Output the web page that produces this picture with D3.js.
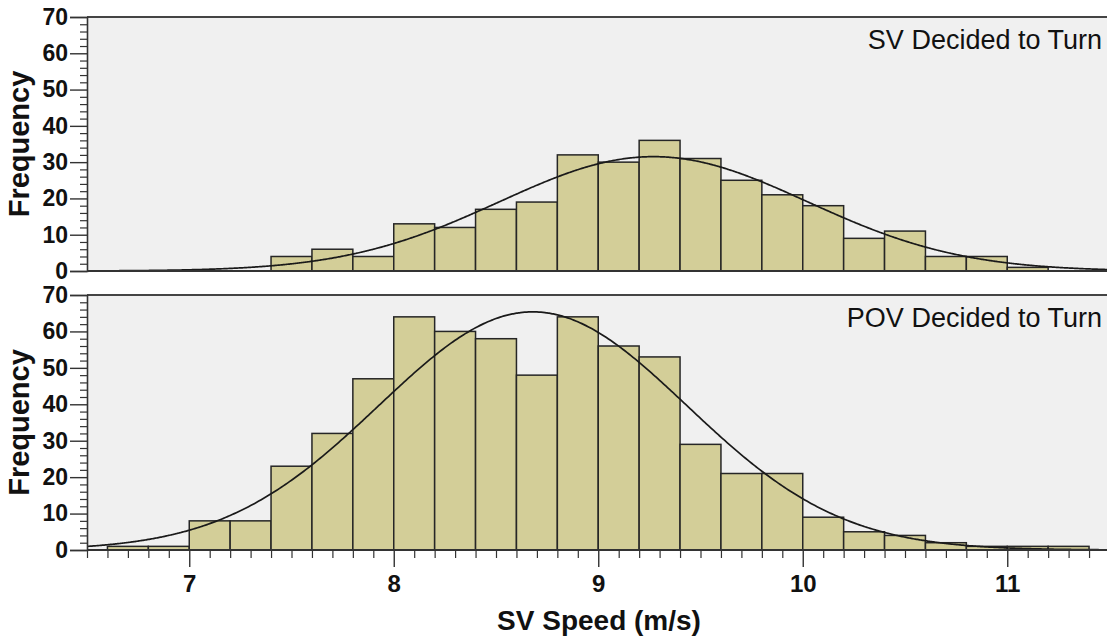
<!DOCTYPE html>
<html>
<head>
<meta charset="utf-8">
<script src="https://cdn.jsdelivr.net/npm/d3@7"></script>
<style>
	html, body { margin: 0; padding: 0; background: #ffffff; }
	svg { display: block; }
</style>
</head>
<body>
<svg id="chart" width="1107" height="637"></svg>
<script>
// histogram bins (lower edge, width 0.2 m/s)
const binWidth = 0.2;

const svTurnEdges  = [7.4, 7.6, 7.8, 8.0, 8.2, 8.4, 8.6, 8.8, 9.0, 9.2, 9.4, 9.6, 9.8, 10.0, 10.2, 10.4, 10.6, 10.8, 11.0];
const svTurnCounts = [4, 6, 4, 13, 12, 17, 19, 32, 30, 36, 31, 25, 21, 18, 9, 11, 4, 4, 1];

const povTurnEdges  = [6.6, 6.8, 7.0, 7.2, 7.4, 7.6, 7.8, 8.0, 8.2, 8.4, 8.6, 8.8, 9.0, 9.2, 9.4, 9.6, 9.8, 10.0, 10.2, 10.4, 10.6, 10.8, 11.0, 11.2];
const povTurnCounts = [1, 1, 8, 8, 23, 32, 47, 64, 60, 58, 48, 64, 56, 53, 29, 21, 21, 9, 5, 4, 2, 1, 1, 1];

// fitted normal curves (mean, std dev)
const svTurnFit  = { mean: 9.27, sd: 0.752 };
const povTurnFit = { mean: 8.68, sd: 0.753 };

const panelLabels = ["SV Decided to Turn", "POV Decided to Turn"];
const yTicks      = [0, 10, 20, 30, 40, 50, 60, 70];
const xTicks      = [7, 8, 9, 10, 11];
const xDomain     = [6.5, 11.5];
const yDomain     = [0, 70];

const svg = d3.select("#chart");
const font = "'Liberation Sans', Arial, Helvetica, sans-serif";

const left  = 87;
const right = 1109.5;

const x = d3.scaleLinear().domain(xDomain).range([left, right]);

function drawPanel(edges, counts, fit, label, top, bottom, showXAxis) {
	const y = d3.scaleLinear().domain(yDomain).range([bottom, top]);
	const g = svg.append("g");

	// plot background
	g.append("rect")
		.attr("x", left).attr("y", top)
		.attr("width", right - left).attr("height", bottom - top)
		.attr("fill", "#f0f0f0");

	// bars
	g.selectAll("rect.bar")
		.data(edges.map((e, i) => ({ x0: e, x1: e + binWidth, n: counts[i] })))
		.join("rect")
		.attr("class", "bar")
		.attr("x", d => x(d.x0))
		.attr("y", d => y(d.n))
		.attr("width", d => x(d.x1) - x(d.x0))
		.attr("height", d => y(0) - y(d.n))
		.attr("fill", "#d3ce98")
		.attr("stroke", "#262626")
		.attr("stroke-width", 1.5);

	// normal curve scaled to the histogram
	const total = d3.sum(counts);
	const norm  = total * binWidth / (fit.sd * Math.sqrt(2 * Math.PI));
	const xs    = d3.range(xDomain[0], xDomain[1] + 0.001, 0.01);
	const line  = d3.line()
		.x(v => x(v))
		.y(v => y(norm * Math.exp(-0.5 * ((v - fit.mean) / fit.sd) ** 2)))
		.curve(d3.curveBasis);
	g.append("path")
		.attr("d", line(xs))
		.attr("fill", "none")
		.attr("stroke", "#1a1a1a")
		.attr("stroke-width", 1.7);

	// frame
	g.append("line")
		.attr("x1", left).attr("x2", right)
		.attr("y1", top).attr("y2", top)
		.attr("stroke", "#444").attr("stroke-width", 2);
	g.append("line")
		.attr("x1", left).attr("x2", right)
		.attr("y1", bottom).attr("y2", bottom)
		.attr("stroke", "#333").attr("stroke-width", 2);

	// y axis
	const yAxis = d3.axisLeft(y)
		.tickValues(yTicks)
		.tickSize(17)
		.tickPadding(2)
		.tickFormat(d3.format("d"));
	const ya = g.append("g")
		.attr("transform", `translate(${left},0)`)
		.call(yAxis);
	ya.selectAll(".tick line").attr("stroke", "#333").attr("stroke-width", 1.4);
	ya.select(".domain").attr("stroke", "#333").attr("stroke-width", 1.6);
	ya.selectAll("text")
		.attr("font-family", font)
		.attr("font-weight", "bold")
		.attr("font-size", 23)
		.attr("fill", "#111");

	const yMinor = d3.axisLeft(y)
		.tickValues(d3.range(0, 71, 2).filter(v => v % 10 !== 0))
		.tickSize(7)
		.tickFormat("");
	const ym = g.append("g")
		.attr("transform", `translate(${left},0)`)
		.call(yMinor);
	ym.select(".domain").remove();
	ym.selectAll(".tick line").attr("stroke", "#333").attr("stroke-width", 1.2);

	g.append("text")
		.attr("transform", `translate(29,${(top + bottom) / 2}) rotate(-90)`)
		.attr("text-anchor", "middle")
		.attr("font-family", font)
		.attr("font-weight", "bold")
		.attr("font-size", 29)
		.attr("fill", "#111")
		.text("Frequency");

	// panel label
	g.append("text")
		.attr("x", 1102)
		.attr("y", top + 32)
		.attr("text-anchor", "end")
		.attr("font-family", font)
		.attr("font-size", 27)
		.attr("fill", "#111")
		.text(label);

	if (showXAxis) {
		const xAxis = d3.axisBottom(x)
			.tickValues(xTicks)
			.tickSize(17)
			.tickPadding(8)
			.tickFormat(d3.format("d"));
		const xa = g.append("g")
			.attr("transform", `translate(0,${bottom})`)
			.call(xAxis);
		xa.select(".domain").remove();
		xa.selectAll(".tick line").attr("stroke", "#333").attr("stroke-width", 1.4);
		xa.selectAll("text")
			.attr("font-family", font)
			.attr("font-weight", "bold")
			.attr("font-size", 24)
			.attr("fill", "#111");

		const xMinor = d3.axisBottom(x)
			.tickValues(d3.range(65, 116, 1).map(v => v / 10).filter(v => Math.abs(v - Math.round(v)) > 0.01))
			.tickSize(8)
			.tickFormat("");
		const xm = g.append("g")
			.attr("transform", `translate(0,${bottom})`)
			.call(xMinor);
		xm.select(".domain").remove();
		xm.selectAll(".tick line").attr("stroke", "#333").attr("stroke-width", 1.2);
	}
}

drawPanel(svTurnEdges, svTurnCounts, svTurnFit, panelLabels[0], 17, 271, false);
drawPanel(povTurnEdges, povTurnCounts, povTurnFit, panelLabels[1], 295, 550, true);

svg.append("text")
	.attr("x", 599)
	.attr("y", 630)
	.attr("text-anchor", "middle")
	.attr("font-family", font)
	.attr("font-weight", "bold")
	.attr("font-size", 28)
	.attr("fill", "#111")
	.text("SV Speed (m/s)");
</script>
</body>
</html>
